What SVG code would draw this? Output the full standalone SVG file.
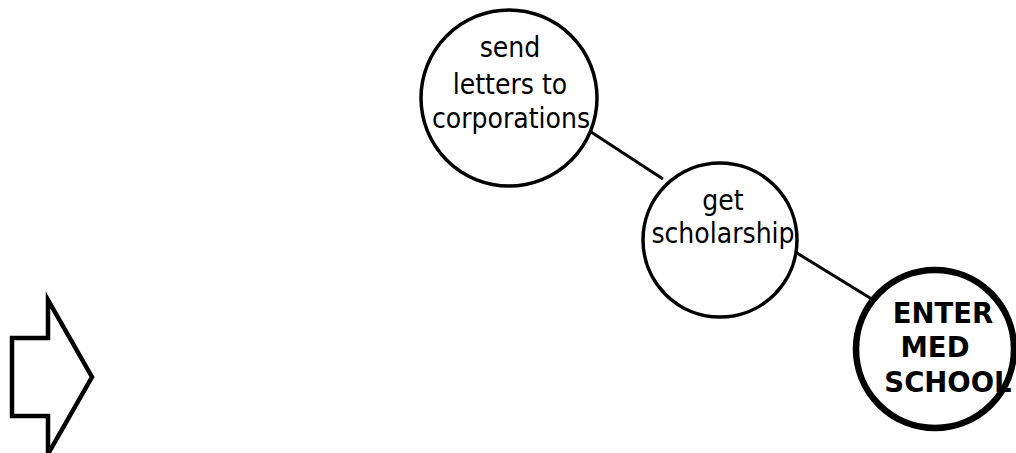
<svg xmlns="http://www.w3.org/2000/svg" width="1016" height="453" viewBox="0 0 1016 453">
  <style>
    .node { fill: #ffffff; stroke: #000000; stroke-width: 3.5; }
    .goal { fill: #ffffff; stroke: #000000; stroke-width: 6.5; }
    .label { font-family: "DejaVu Sans Condensed", "DejaVu Sans", Verdana, sans-serif; font-stretch: condensed; font-size: 28px; fill: #000000; text-anchor: middle; }
    .bold { font-family: "DejaVu Sans", Verdana, sans-serif; font-stretch: normal; font-size: 27.5px; font-weight: bold; }
    .edge { stroke: #000000; stroke-width: 3; fill: none; }
  </style>
  <rect width="1016" height="453" fill="#ffffff"/>

  <!-- connectors -->
  <g id="connectors">
    <line class="edge" x1="588" y1="130" x2="663" y2="179"/>
    <line class="edge" x1="792" y1="250" x2="875" y2="301"/>
  </g>

  <!-- block arrow on the left -->
  <g id="arrow">
    <polygon points="12,338 48,338 48,300 92,377 48,454 48,416 12,416" fill="#ffffff" stroke="#000000" stroke-width="4.5" stroke-linejoin="miter"/>
  </g>

  <g id="node-letters">
    <circle class="node" cx="509" cy="98" r="88"/>
    <text class="label" x="510" y="57">send</text>
    <text class="label" x="510" y="94">letters to</text>
    <text class="label" x="511" y="128">corporations</text>
  </g>

  <g id="node-scholarship">
    <circle class="node" cx="720" cy="240" r="77"/>
    <text class="label" x="723" y="210">get</text>
    <text class="label" x="723" y="243">scholarship</text>
  </g>

  <g id="node-medschool">
    <circle class="goal" cx="935" cy="349" r="79"/>
    <text class="label bold" x="943" y="323">ENTER</text>
    <text class="label bold" x="935" y="357">MED</text>
    <text class="label bold" x="948" y="392">SCHOOL</text>
  </g>
</svg>
